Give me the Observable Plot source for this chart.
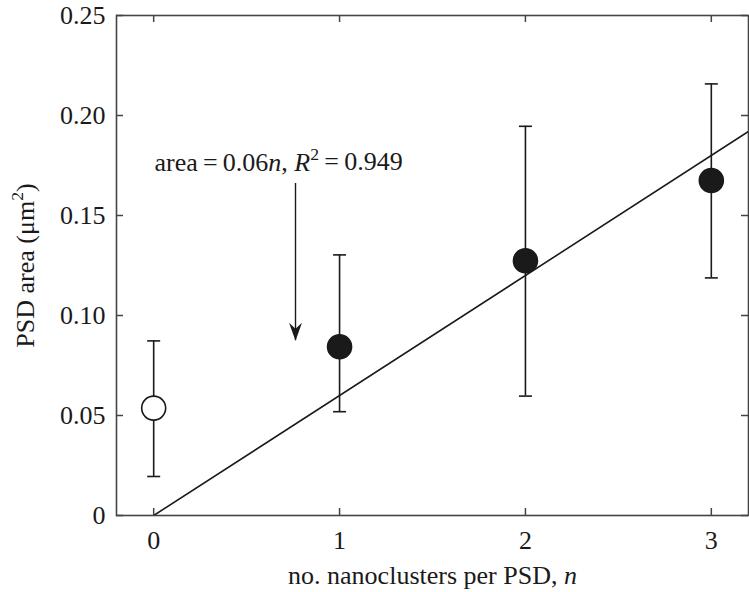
<!DOCTYPE html>
<html>
<head>
<meta charset="utf-8">
<script src="https://cdn.jsdelivr.net/npm/d3@7"></script>
<script src="https://cdn.jsdelivr.net/npm/@observablehq/plot@0.6"></script>
<style>
  html, body { margin: 0; padding: 0; background: #fff; }
  #chart { width: 749px; height: 592px; }
</style>
</head>
<body>
<div id="chart"></div>
<script>
// ---- data ----
const nValues   = [0, 1, 2, 3];
const meanArea  = [0.0537, 0.0844, 0.1274, 0.1675];
const lowArea   = [0.0195, 0.0519, 0.0597, 0.1188];
const highArea  = [0.0873, 0.1303, 0.1946, 0.2158];
const filledPt  = [false, true, true, true];

const fitSlope  = 0.06;
const fitRange  = [0, 3.2];

const xTicks      = [0, 1, 2, 3];
const xTickLabels = ["0", "1", "2", "3"];
const yTicks      = [0, 0.05, 0.10, 0.15, 0.20, 0.25];
const yTickLabels = ["0", "0.05", "0.10", "0.15", "0.20", "0.25"];

const xLabelParts   = [["no. nanoclusters per PSD, ", "normal"], ["n", "italic"]];
const yLabelParts   = [["PSD area (\u03bcm", "normal"], ["2", "sup"], [")", "normal"]];
const fitLabelParts = [["area\u2009=\u20090.06", "normal"], ["n", "italic"], [", ", "normal"], ["R", "italic"], ["2", "sup"], ["\u2009=\u20090.949", "normal"]];

// annotation anchor (data units)
const fitLabelAt = {n: 0.672, area: 0.1725};
const arrowAt    = {n: 0.763, top: 0.166, tip: 0.0874};

// ---- build ----
const ink = "#1a1a1a";
const plain = parts => parts.map(p => p[0]).join("");

const points = nValues.map((n, i) => ({n, mean: meanArea[i], low: lowArea[i], high: highArea[i], filled: filledPt[i]}));
const fit = fitRange.map(n => ({n, area: fitSlope * n}));

const capSymbol = {
  draw(ctx, size) {
    const w = Math.sqrt(size / Math.PI);
    ctx.moveTo(-w, 0); ctx.lineTo(w, 0);
  }
};
const headSymbol = {
  draw(ctx, size) {
    const s = Math.sqrt(size / Math.PI);
    ctx.moveTo(0, 0);
    ctx.lineTo(-s * 0.36, -s);
    ctx.lineTo(0, -s * 0.66);
    ctx.lineTo(s * 0.36, -s);
    ctx.closePath();
  }
};

const chart = Plot.plot({
  width: 749,
  height: 592,
  marginLeft: 116,
  marginRight: 1,
  marginTop: 15,
  marginBottom: 77,
  style: {fontFamily: "'Liberation Serif', 'Times New Roman', serif", fontSize: "26px", color: ink, background: "#fff"},
  x: {domain: [-0.2, 3.2]},
  y: {domain: [0, 0.25]},
  marks: [
    // inward ticks on all four sides
    Plot.ruleX(xTicks, {x: d => d, insetTop: 493, stroke: "#444", strokeWidth: 1.5}),
    Plot.ruleX(xTicks, {x: d => d, insetBottom: 493, stroke: "#444", strokeWidth: 1.5}),
    Plot.ruleY(yTicks, {y: d => d, insetRight: 625, stroke: "#444", strokeWidth: 1.5}),
    Plot.ruleY(yTicks, {y: d => d, insetLeft: 625, stroke: "#444", strokeWidth: 1.5}),
    Plot.axisX(xTicks, {anchor: "bottom", tickSize: 0, tickPadding: 15, fontSize: 26, fill: ink,
      tickFormat: d => xTickLabels[xTicks.indexOf(d)],
      label: plain(xLabelParts), labelAnchor: "center", labelArrow: "none", labelOffset: 68}),
    Plot.axisY(yTicks, {anchor: "left", tickSize: 0, tickPadding: 11, fontSize: 26, fill: ink,
      tickFormat: d => yTickLabels[yTicks.indexOf(d)],
      label: plain(yLabelParts), labelAnchor: "center", labelArrow: "none", labelOffset: 101}),
    // linear fit
    Plot.line(fit, {x: "n", y: "area", stroke: ink, strokeWidth: 1.6, clip: true}),
    // error bars
    Plot.ruleX(points, {x: "n", y1: "low", y2: "high", stroke: ink, strokeWidth: 1.6}),
    Plot.dot(points, {x: "n", y: "low", r: 6.5, symbol: capSymbol, fill: "none", stroke: ink, strokeWidth: 1.6}),
    Plot.dot(points, {x: "n", y: "high", r: 6.5, symbol: capSymbol, fill: "none", stroke: ink, strokeWidth: 1.6}),
    // means
    Plot.dot(points, {x: "n", y: "mean", r: 12, fill: d => d.filled ? ink : "#fff", stroke: ink, strokeWidth: 1.6}),
    // annotation arrow
    Plot.ruleX([arrowAt], {x: "n", y1: "top", y2: "tip", stroke: ink, strokeWidth: 1.4}),
    Plot.dot([arrowAt], {x: "n", y: "tip", r: 18, symbol: headSymbol, fill: ink, stroke: "none"}),
    Plot.text([fitLabelAt], {x: "n", y: "area", text: () => plain(fitLabelParts), fontSize: 26, lineAnchor: "bottom", fill: ink}),
    Plot.frame({stroke: "#444", strokeWidth: 1.6})
  ]
});

document.getElementById("chart").appendChild(chart);

// rich text (italics / superscripts) applied to the rendered labels
function enrich(parts) {
  const target = plain(parts);
  d3.select(chart).selectAll("text").each(function () {
    if (this.textContent.trim() !== target.trim()) return;
    const el = d3.select(this);
    el.text("");
    let raised = false;
    for (const [str, kind] of parts) {
      const t = el.append("tspan").text(str);
      if (kind === "italic") t.attr("font-style", "italic");
      if (kind === "sup") {
        t.attr("font-size", "0.68em").attr("dy", "-0.62em");
        raised = true;
      } else if (raised) {
        t.attr("dy", "0.42em");
        raised = false;
      }
    }
  });
}
enrich(xLabelParts);
enrich(yLabelParts);
enrich(fitLabelParts);
</script>
</body>
</html>
